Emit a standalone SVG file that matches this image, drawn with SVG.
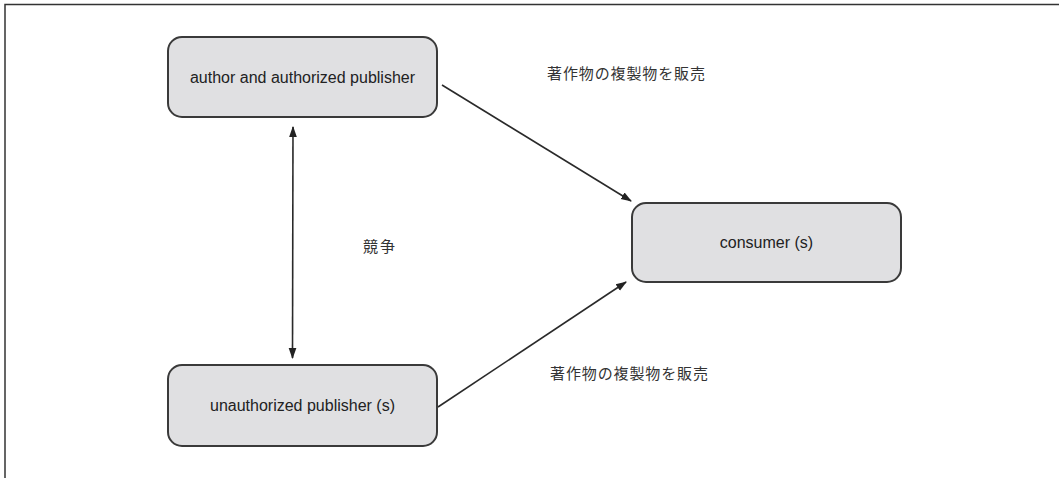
<svg xmlns="http://www.w3.org/2000/svg" width="1059" height="478" viewBox="0 0 1059 478">
  <style>
    .frame { fill: none; stroke: #333; stroke-width: 1.5; }
    .node rect { fill: #e0e0e2; stroke: #3a3a3a; stroke-width: 2; }
    .node text { font-family: "Liberation Sans", Arial, sans-serif; font-size: 16px; fill: #222; text-anchor: middle; }
    .edge { fill: none; stroke: #2a2a2a; stroke-width: 1.6; }
    .label { font-family: "Noto Sans CJK JP", "Noto Sans CJK SC", sans-serif; font-size: 15px; fill: #333; }
  </style>
  <defs>
    <marker id="arrow" viewBox="0 0 10 10" refX="9" refY="5" markerWidth="7" markerHeight="7" orient="auto-start-reverse" markerUnits="userSpaceOnUse">
      <path d="M0,1 L10,5 L0,9 z" fill="#222"/>
    </marker>
    <marker id="arrowLg" viewBox="0 0 10 10" refX="9" refY="5" markerWidth="11" markerHeight="11" orient="auto-start-reverse" markerUnits="userSpaceOnUse">
      <path d="M0,1.5 L10,5 L0,8.5 z" fill="#222"/>
    </marker>
  </defs>

  <rect width="1059" height="478" fill="#ffffff"/>
  <!-- page frame: top and left rules -->
  <path class="frame" d="M5,478 L5,4.5 L1059,4.5"/>

  <g id="connectors">
    <line class="edge" x1="442" y1="85" x2="631" y2="201" marker-end="url(#arrowLg)"/>
    <line class="edge" x1="438" y1="407" x2="626" y2="282" marker-end="url(#arrowLg)"/>
    <line class="edge" x1="293" y1="127" x2="292.5" y2="358" marker-start="url(#arrowLg)" marker-end="url(#arrowLg)"/>
  </g>

  <g id="labels">
    <text class="label" x="547" y="79" textLength="158" lengthAdjust="spacing">著作物の複製物を販売</text>
    <text class="label" x="550" y="379" textLength="158" lengthAdjust="spacing">著作物の複製物を販売</text>
    <text class="label" x="363" y="252" textLength="32" lengthAdjust="spacing">競争</text>
  </g>

  <g id="node-author" class="node">
    <rect x="168" y="37" width="269" height="80" rx="14" ry="14"/>
    <text x="302.5" y="83">author and authorized publisher</text>
  </g>

  <g id="node-consumer" class="node">
    <rect x="632" y="203" width="269" height="79" rx="14" ry="14"/>
    <text x="766.5" y="248">consumer (s)</text>
  </g>

  <g id="node-unauthorized" class="node">
    <rect x="168" y="365" width="269" height="81" rx="14" ry="14"/>
    <text x="302.5" y="411">unauthorized publisher (s)</text>
  </g>
</svg>
